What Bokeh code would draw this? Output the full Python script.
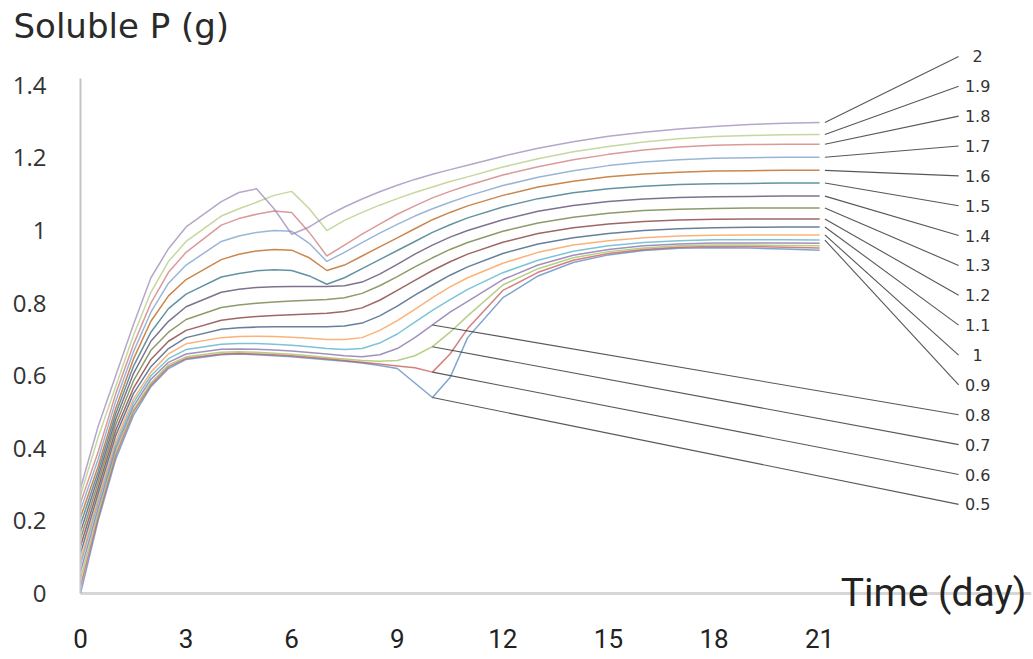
from bokeh.plotting import figure
from bokeh.models import Range1d, FixedTicker, CustomJSTickFormatter, Label, ColumnDataSource, Title
from bokeh.core.properties import value
from bokeh.embed import file_html
from bokeh.resources import INLINE

# ---------------- data ----------------
DAYS = [0, 0.5, 1, 1.5, 2, 2.5, 3, 4, 4.5, 5, 5.5, 6, 6.5, 7, 7.5, 8, 8.5, 9, 9.5, 10,
        10.5, 11, 12, 13, 14, 15, 16, 17, 18, 19, 20, 21]

SERIES_NAMES = ["0.5", "0.6", "0.7", "0.8", "0.9", "1", "1.1", "1.2",
                "1.3", "1.4", "1.5", "1.6", "1.7", "1.8", "1.9", "2"]

S_0_5 = [0.0, 0.20, 0.37, 0.49, 0.57, 0.62, 0.645, 0.658, 0.66, 0.658, 0.655, 0.652, 0.648, 0.644,
         0.64, 0.635, 0.628, 0.62, 0.58, 0.54, 0.595, 0.705, 0.815, 0.875, 0.912, 0.933, 0.945,
         0.951, 0.953, 0.952, 0.949, 0.946]
S_0_6 = [0.02, 0.21, 0.38, 0.50, 0.575, 0.625, 0.648, 0.66, 0.662, 0.66, 0.658, 0.655, 0.651, 0.647,
         0.642, 0.637, 0.632, 0.627, 0.622, 0.61, 0.66, 0.73, 0.835, 0.885, 0.918, 0.937, 0.948,
         0.954, 0.956, 0.956, 0.954, 0.952]
S_0_7 = [0.04, 0.22, 0.39, 0.505, 0.58, 0.63, 0.652, 0.665, 0.666, 0.665, 0.662, 0.659, 0.655, 0.65,
         0.646, 0.642, 0.64, 0.642, 0.655, 0.68, 0.72, 0.765, 0.85, 0.895, 0.925, 0.942, 0.952,
         0.958, 0.96, 0.96, 0.959, 0.958]
S_0_8 = [0.06, 0.235, 0.40, 0.515, 0.59, 0.637, 0.66, 0.673, 0.674, 0.673, 0.671, 0.668, 0.664, 0.66,
         0.655, 0.652, 0.658, 0.675, 0.705, 0.74, 0.775, 0.805, 0.865, 0.905, 0.932, 0.948, 0.958,
         0.963, 0.966, 0.966, 0.966, 0.965]
S_0_9 = [0.08, 0.25, 0.41, 0.525, 0.60, 0.647, 0.672, 0.687, 0.689, 0.689, 0.687, 0.684, 0.68, 0.675,
         0.672, 0.675, 0.69, 0.715, 0.748, 0.78, 0.81, 0.838, 0.884, 0.918, 0.943, 0.958, 0.967,
         0.972, 0.975, 0.975, 0.975, 0.974]
S_1_0 = [0.09, 0.26, 0.42, 0.535, 0.61, 0.66, 0.688, 0.705, 0.708, 0.709, 0.708, 0.706, 0.703, 0.70,
         0.70, 0.705, 0.725, 0.752, 0.783, 0.815, 0.845, 0.87, 0.91, 0.94, 0.96, 0.972, 0.98,
         0.985, 0.987, 0.988, 0.988, 0.988]
S_1_1 = [0.11, 0.275, 0.435, 0.55, 0.625, 0.675, 0.705, 0.728, 0.732, 0.734, 0.735, 0.735, 0.735, 0.735,
         0.737, 0.745, 0.765, 0.792, 0.822, 0.85, 0.877, 0.90, 0.937, 0.963, 0.98, 0.992, 1.0,
         1.005, 1.008, 1.009, 1.01, 1.01]
S_1_2 = [0.13, 0.29, 0.45, 0.565, 0.645, 0.695, 0.725, 0.753, 0.759, 0.763, 0.766, 0.768, 0.77, 0.772,
         0.777, 0.787, 0.808, 0.835, 0.863, 0.89, 0.914, 0.935, 0.968, 0.992, 1.008, 1.018, 1.025,
         1.029, 1.031, 1.032, 1.032, 1.032]
S_1_3 = [0.15, 0.305, 0.465, 0.585, 0.67, 0.72, 0.755, 0.788, 0.795, 0.80, 0.803, 0.806, 0.808, 0.81,
         0.815, 0.827, 0.848, 0.873, 0.90, 0.925, 0.948, 0.967, 0.998, 1.021, 1.037, 1.048, 1.055,
         1.059, 1.061, 1.062, 1.062, 1.062]
S_1_4 = [0.17, 0.32, 0.48, 0.605, 0.695, 0.75, 0.79, 0.83, 0.838, 0.843, 0.845, 0.846, 0.846, 0.846,
         0.848, 0.858, 0.88, 0.907, 0.935, 0.96, 0.982, 1.0, 1.03, 1.053, 1.069, 1.08, 1.087,
         1.091, 1.093, 1.094, 1.095, 1.095]
S_1_5 = [0.19, 0.335, 0.495, 0.625, 0.72, 0.785, 0.825, 0.872, 0.882, 0.889, 0.892, 0.89, 0.875, 0.852,
         0.87, 0.895, 0.92, 0.945, 0.97, 0.995, 1.016, 1.035, 1.065, 1.088, 1.104, 1.115, 1.122,
         1.127, 1.129, 1.13, 1.131, 1.131]
S_1_6 = [0.21, 0.35, 0.51, 0.645, 0.75, 0.82, 0.865, 0.92, 0.935, 0.944, 0.948, 0.946, 0.925, 0.89,
         0.905, 0.93, 0.955, 0.98, 1.005, 1.03, 1.05, 1.068, 1.097, 1.12, 1.136, 1.148, 1.156,
         1.161, 1.164, 1.165, 1.166, 1.166]
S_1_7 = [0.23, 0.37, 0.53, 0.665, 0.775, 0.855, 0.905, 0.97, 0.985, 0.995, 1.0, 0.998, 0.965, 0.915,
         0.94, 0.967, 0.993, 1.017, 1.04, 1.06, 1.078, 1.095, 1.124, 1.147, 1.165, 1.179, 1.189,
         1.195, 1.199, 1.201, 1.202, 1.202]
S_1_8 = [0.25, 0.39, 0.55, 0.685, 0.80, 0.885, 0.94, 1.015, 1.033, 1.045, 1.054, 1.05, 0.995, 0.93,
         0.96, 0.99, 1.018, 1.045, 1.068, 1.09, 1.108, 1.124, 1.153, 1.176, 1.195, 1.21, 1.222,
         1.23, 1.235, 1.237, 1.238, 1.238]
S_1_9 = [0.27, 0.43, 0.57, 0.71, 0.83, 0.915, 0.97, 1.04, 1.06, 1.078, 1.097, 1.108, 1.06, 1.0,
         1.028, 1.05, 1.07, 1.088, 1.105, 1.12, 1.135, 1.148, 1.175, 1.198, 1.217, 1.232, 1.244,
         1.253, 1.259, 1.262, 1.264, 1.265]
S_2_0 = [0.29, 0.46, 0.60, 0.74, 0.87, 0.95, 1.01, 1.08, 1.105, 1.115, 1.06, 0.99, 1.01, 1.04,
         1.065, 1.087, 1.107, 1.125, 1.141, 1.155, 1.168, 1.18, 1.205, 1.227, 1.245, 1.26, 1.271,
         1.28, 1.287, 1.292, 1.296, 1.298]

SERIES = [S_0_5, S_0_6, S_0_7, S_0_8, S_0_9, S_1_0, S_1_1, S_1_2,
          S_1_3, S_1_4, S_1_5, S_1_6, S_1_7, S_1_8, S_1_9, S_2_0]

# day at which each series' data label is attached
LABEL_DAY = [10, 10, 10, 10, 21, 21, 21, 21, 21, 21, 21, 21, 21, 21, 21, 21]

X_TICKS = [0, 3, 6, 9, 12, 15, 18, 21]
Y_TICKS = [0, 0.2, 0.4, 0.6, 0.8, 1.0, 1.2, 1.4]

COLORS = ["#4F81BD", "#C0504D", "#9BBB59", "#8064A2", "#4BACC6", "#F79646",
          "#2C4D75", "#772C2A", "#5F7530", "#4D3B62", "#276A7C", "#B65708",
          "#729ACA", "#CD7371", "#AFC97A", "#9983B5"]

# ---------------- layout ----------------
LABEL_TOP = 1.48      # y of the "2" label (data units)
LABEL_STEP = 0.0823   # spacing between stacked labels
LABEL_X = 25.49       # label centre (day units)
LEADER_END_X = 24.95

p = figure(width=1033, height=659,
           x_range=Range1d(0, 27.02), y_range=Range1d(-0.08, 1.51),
           output_backend="svg", toolbar_location=None,
           min_border_left=80, min_border_right=2,
           min_border_top=45, min_border_bottom=37)
p.outline_line_color = None
p.xgrid.visible = False
p.background_fill_color = "white"

# horizontal base line at y = 0 (grid line at the zero tick only)
p.ygrid.ticker = FixedTicker(ticks=Y_TICKS[:1])
p.ygrid.bounds = (X_TICKS[0], X_TICKS[-1])
p.ygrid.grid_line_color = "#d6d6d6"
p.ygrid.grid_line_width = 3

for ys, col in zip(SERIES, COLORS):
    p.line(DAYS, ys, line_color=col, line_width=1.5, line_alpha=0.72, line_join="round")

# leader lines & labels
x0, y0, x1, y1, ly = [], [], [], [], []
n = len(SERIES)
for i, (ys, d) in enumerate(zip(SERIES, LABEL_DAY)):
    rank = n - 1 - i
    yl = LABEL_TOP - LABEL_STEP * rank
    x0.append(d + (0.15 if d == DAYS[-1] else 0.0))
    y0.append(ys[DAYS.index(d)])
    x1.append(LEADER_END_X)
    y1.append(yl)
    ly.append(yl)

leader_src = ColumnDataSource(dict(x0=x0, y0=y0, x1=x1, y1=y1))
p.segment(x0="x0", y0="y0", x1="x1", y1="y1", source=leader_src,
          line_color="#3a3a3a", line_width=1.1, line_alpha=0.85)

lab_src = ColumnDataSource(dict(x=[LABEL_X] * n, y=ly, t=SERIES_NAMES))
p.text(x="x", y="y", text="t", source=lab_src, text_align="center", text_baseline="middle",
       text_font=value("DejaVu Sans"), text_font_size="16px", text_color="#333333")

# axes
xa = p.xaxis[0]
xa.ticker = FixedTicker(ticks=X_TICKS)
xa.axis_line_color = None
xa.major_tick_line_color = None
xa.minor_tick_line_color = None
xa.major_label_standoff = 0
xa.major_label_text_font = "Roboto"
xa.major_label_text_font_size = "26px"
xa.major_label_text_color = "#222222"

ya = p.yaxis[0]
ya.ticker = FixedTicker(ticks=Y_TICKS)
ya.bounds = (0, 1.42)
ya.axis_line_color = "#c4c4c4"
ya.axis_line_width = 2
ya.major_tick_line_color = None
ya.minor_tick_line_color = None
ya.major_label_standoff = 28
ya.major_label_text_font = "Open Sans"
ya.major_label_text_font_size = "24px"
ya.major_label_text_color = "#333333"
ya.formatter = CustomJSTickFormatter(code="return (Math.round(tick * 10) / 10).toString();")

p.title = Title(text="Soluble P (g)", align="left", offset=-67, standoff=0,
                text_font="DejaVu Sans", text_font_size="34px", text_font_style="normal",
                text_color="#2a2a2a")

p.add_layout(Label(x=21.6, y=0.0, text="Time (day)", text_font="Roboto",
                   text_font_size="39px", text_color="#222222", text_baseline="middle"))

open("out.html", "w").write(file_html(p, INLINE))
